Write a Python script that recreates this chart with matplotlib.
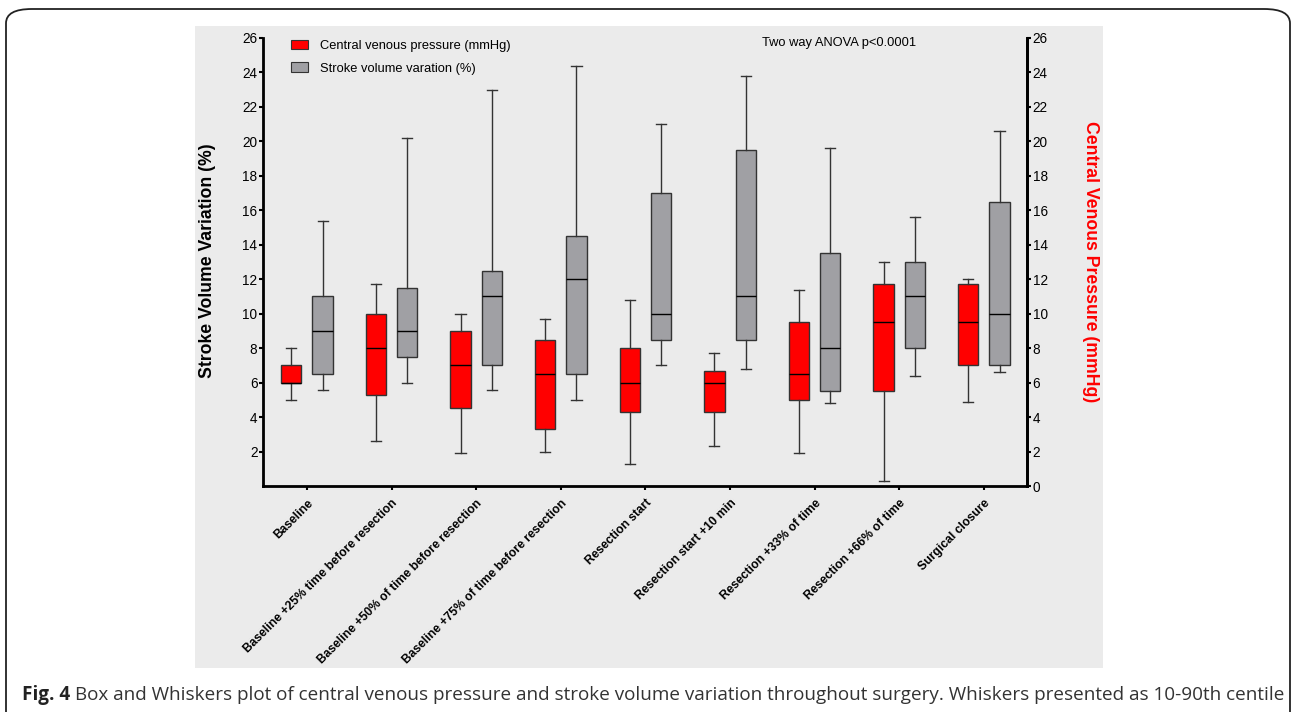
import matplotlib
matplotlib.use("Agg")
import matplotlib.pyplot as plt
from matplotlib.patches import FancyBboxPatch, Rectangle, Patch

plt.rcParams['font.family'] = ['Liberation Sans', 'DejaVu Sans']

categories = ['Baseline', 'Baseline +25% time before resection',
              'Baseline +50% of time before resection',
              'Baseline +75% of time before resection', 'Resection start',
              'Resection start +10 min', 'Resection +33% of time',
              'Resection +66% of time', 'Surgical closure']

# central venous pressure (mmHg): 10th, Q1, median, Q3, 90th
cvp_low = [5.0, 2.6, 1.9, 2.0, 1.3, 2.3, 1.9, 0.3, 4.9]
cvp_q1 = [6.0, 5.3, 4.5, 3.3, 4.3, 4.3, 5.0, 5.5, 7.0]
cvp_med = [6.0, 8.0, 7.0, 6.5, 6.0, 6.0, 6.5, 9.5, 9.5]
cvp_q3 = [7.0, 10.0, 9.0, 8.5, 8.0, 6.7, 9.5, 11.7, 11.7]
cvp_high = [8.0, 11.7, 10.0, 9.7, 10.8, 7.7, 11.4, 13.0, 12.0]

# stroke volume variation (%)
svv_low = [5.6, 6.0, 5.6, 5.0, 7.0, 6.8, 4.8, 6.4, 6.6]
svv_q1 = [6.5, 7.5, 7.0, 6.5, 8.5, 8.5, 5.5, 8.0, 7.0]
svv_med = [9.0, 9.0, 11.0, 12.0, 10.0, 11.0, 8.0, 11.0, 10.0]
svv_q3 = [11.0, 11.5, 12.5, 14.5, 17.0, 19.5, 13.5, 13.0, 16.5]
svv_high = [15.4, 20.2, 23.0, 24.4, 21.0, 23.8, 19.6, 15.6, 20.6]

RED = '#ff0000'
GRAY = '#a0a0a4'
W, H = 1292, 712


def make_stats(low, q1, med, q3, high):
    return [dict(whislo=a, q1=b, med=c, q3=d, whishi=e)
            for a, b, c, d, e in zip(low, q1, med, q3, high)]


fig = plt.figure(figsize=(W / 100, H / 100), dpi=100)

# outer frame and gray panel
fig.patches.append(FancyBboxPatch((6 / W, -0.05), 1284 / W, 1 - 9 / H + 0.05,
                                  boxstyle='round,pad=0,rounding_size=0.02',
                                  transform=fig.transFigure, facecolor='white',
                                  edgecolor='#222222', linewidth=1.3, zorder=-2))
fig.patches.append(Rectangle((195 / W, 1 - 668 / H), 908 / W, 642 / H,
                             transform=fig.transFigure, facecolor='#ebebeb',
                             edgecolor='none', zorder=-1))

ax = fig.add_axes([263 / W, 1 - 486 / H, 764 / W, 448 / H])
ax.set_facecolor('none')
x = list(range(len(categories)))
off, w = 0.185, 0.24

common = dict(widths=w, patch_artist=True, showfliers=False,
              whiskerprops=dict(color='#333333', linewidth=1),
              capprops=dict(color='#333333', linewidth=1),
              medianprops=dict(color='black', linewidth=1),
              manage_ticks=False)
ax.bxp(make_stats(cvp_low, cvp_q1, cvp_med, cvp_q3, cvp_high),
       positions=[i - off for i in x],
       boxprops=dict(facecolor=RED, edgecolor='#333333', linewidth=1),
       **common)
ax.bxp(make_stats(svv_low, svv_q1, svv_med, svv_q3, svv_high),
       positions=[i + off for i in x],
       boxprops=dict(facecolor=GRAY, edgecolor='#333333', linewidth=1),
       **common)

ax.set_xlim(-0.52, len(categories) - 0.49)
ax.set_ylim(0, 26)
ax.set_yticks(range(2, 27, 2))
ax.set_xticks(x)
ax.tick_params(axis='both', direction='out', length=3, width=1.5)
ax.tick_params(axis='y', labelsize=9.8, pad=1)
ax.tick_params(axis='x', pad=5)
ax.set_xticklabels(categories, rotation=45, ha='right', rotation_mode='anchor',
                   fontsize=8.7, fontweight='bold')
ax.spines['top'].set_visible(False)
for s in ['left', 'bottom', 'right']:
    ax.spines[s].set_linewidth(2)

ax2 = ax.twinx()
ax2.set_ylim(0, 26)
ax2.set_yticks(range(0, 27, 2))
ax2.tick_params(axis='y', direction='out', length=3, width=1.5, labelsize=9.8,
                pad=1)
ax2.spines['top'].set_visible(False)
ax2.spines['right'].set_linewidth(2)

fig.text(208 / W, 1 - 261 / H, 'Stroke Volume Variation (%)', fontsize=12.7,
         fontweight='bold', rotation=90, ha='center', va='center')
fig.text(1090 / W, 1 - 262 / H, 'Central Venous Pressure (mmHg)', fontsize=12.7,
         fontweight='bold', color=RED, rotation=270, ha='center', va='center')

handles = [Patch(facecolor=RED, edgecolor='#333333', linewidth=0.8),
           Patch(facecolor=GRAY, edgecolor='#333333', linewidth=0.8)]
ax.legend(handles, ['Central venous pressure (mmHg)', 'Stroke volume varation (%)'],
          loc='upper left', bbox_to_anchor=(291 / W, 1 - 40 / H),
          bbox_transform=fig.transFigure, frameon=False, fontsize=9.3,
          handlelength=1.3, handleheight=0.72, handletextpad=0.93,
          labelspacing=0.8, borderpad=0, borderaxespad=0)
fig.text(839.5 / W, 1 - 43 / H, 'Two way ANOVA p<0.0001', ha='center',
         va='center', fontsize=9.3)

# caption
cap_font = ['Open Sans', 'DejaVu Sans']
cap = fig.text(22 / W, 1 - 700 / H, 'Fig. 4', fontsize=13.6, fontweight='bold',
               family=cap_font, va='baseline', color='#222222')
fig.canvas.draw()
bb = cap.get_window_extent()
fig.text((bb.x1 + 5) / W, 1 - 700 / H,
         'Box and Whiskers plot of central venous pressure and stroke volume '
         'variation throughout surgery. Whiskers presented as 10-90th centile',
         fontsize=13.6, family=cap_font, va='baseline', color='#333333')

fig.savefig('out.png', dpi=100)
